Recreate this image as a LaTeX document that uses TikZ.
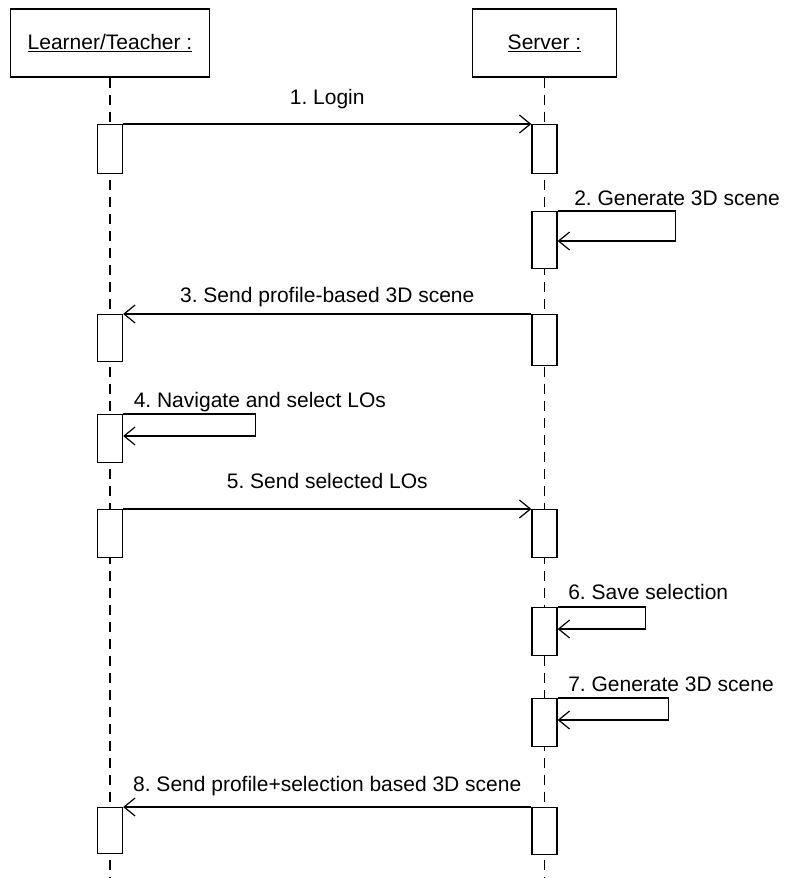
\documentclass[tikz,border=0pt]{standalone}
\usepackage{fontspec}
\setmainfont{Liberation Sans}
\frenchspacing
\usetikzlibrary{positioning, calc, arrows.meta}
\tikzstyle{actor} = [rectangle, minimum height=68pt, text centered, draw=black, line width=1.3pt]
\tikzstyle{act} = [rectangle, minimum width=25pt, inner sep=0pt, anchor=north, draw=black, fill=white, line width=1.3pt]
\tikzstyle{lifeline} = [line width=1.1pt, dash pattern=on 10pt off 7pt]
\tikzstyle{msg} = [line width=1.2pt, -{Straight Barb[length=11pt, width=18pt, line width=1.2pt]}]
\tikzstyle{lbl} = [anchor=base, inner sep=0pt]
\tikzstyle{every node}=[font=\fontsize{21}{25}\selectfont]

\begin{document}
\begin{tikzpicture}[x=1pt, y=-1pt]
    \useasboundingbox (0,0) rectangle (787,878);
    \def\lx{110}
    \def\sx{544.5}
    \coordinate (bottom) at (0,878);
    %actors and lifelines
    \node (learner) [actor, minimum width=199pt] at (\lx,43) {\underline{Learner/Teacher :}};
    \node (server) [actor, minimum width=144pt] at (\sx,43) {\underline{Server :}};
    \draw [lifeline] (learner.south) -- (learner.south |- bottom);
    \draw [lifeline] (server.south) -- (server.south |- bottom);

    %activation boxes
    \node (la1) [act, minimum height=49pt] at (\lx,124) {};
    \node (sa1) [act, minimum height=49pt] at (\sx,124) {};
    \node (sa2) [act, minimum height=57pt] at (\sx,211) {};
    \node (la3) [act, minimum height=47pt] at (\lx,314) {};
    \node (sa3) [act, minimum height=51pt] at (\sx,314) {};
    \node (la4) [act, minimum height=48pt] at (\lx,414) {};
    \node (la5) [act, minimum height=48pt] at (\lx,509) {};
    \node (sa5) [act, minimum height=48pt] at (\sx,509) {};
    \node (sa6) [act, minimum height=48pt] at (\sx,607) {};
    \node (sa7) [act, minimum height=48pt] at (\sx,698) {};
    \node (la8) [act, minimum height=46pt] at (\lx,807) {};
    \node (sa8) [act, minimum height=47pt] at (\sx,807) {};

    %messages
    \draw [msg] (la1.north east) -- (sa1.north west) node [lbl, midway, yshift=20pt] {1. Login};
    \draw [msg] (sa2.north east) node [lbl, anchor=base west, xshift=16pt, yshift=6pt] {2. Generate 3D scene}
        -- ++(118,0) |- ($(sa2.north east)+(0,30)$);
    \draw [msg] (sa3.north west) -- (la3.north east) node [lbl, midway, yshift=12pt] {3. Send profile-based 3D scene};
    \draw [msg] (la4.north east) node [lbl, anchor=base west, xshift=10pt, yshift=7pt] {4. Navigate and select LOs}
        -- ++(132,0) |- ($(la4.north east)+(0,22)$);
    \draw [msg] (la5.north east) -- (sa5.north west) node [lbl, midway, yshift=21pt] {5. Send selected LOs};
    \draw [msg] (sa6.north east) node [lbl, anchor=base west, xshift=10pt, yshift=8pt] {6. Save selection}
        -- ++(88,0) |- ($(sa6.north east)+(0,22)$);
    \draw [msg] (sa7.north east) node [lbl, anchor=base west, xshift=10pt, yshift=7pt] {7. Generate 3D scene}
        -- ++(111,0) |- ($(sa7.north east)+(0,22)$);
    \draw [msg] (sa8.north west) -- (la8.north east) node [lbl, midway, yshift=16pt] {8. Send profile+selection based 3D scene};
\end{tikzpicture}
\end{document}
